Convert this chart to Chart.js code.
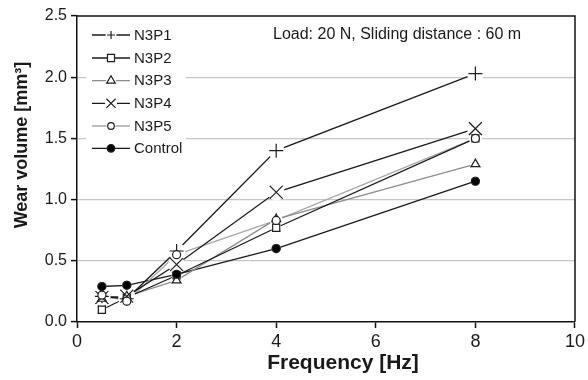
<!DOCTYPE html>
<html>
<head>
<meta charset="utf-8">
<script src="https://cdn.jsdelivr.net/npm/chart.js@4.4.1/dist/chart.umd.min.js"></script>
<style>
  html, body { margin: 0; padding: 0; background: #fff; }
  #wrap { width: 588px; height: 380px; position: relative; }
</style>
</head>
<body>
<div id="wrap"><canvas id="c" width="588" height="380"></canvas></div>
<script>
// ---- data ----
const frequency = [0.5, 1, 2, 4, 8];
const seriesNames = ['N3P1', 'N3P2', 'N3P3', 'N3P4', 'N3P5', 'Control'];
const n3p1 = [0.21, 0.19, 0.58, 1.40, 2.03];
const n3p2 = [0.10, 0.20, 0.38, 0.77, 1.50];
const n3p3 = [0.19, 0.21, 0.34, 0.84, 1.29];
const n3p4 = [0.20, 0.21, 0.47, 1.06, 1.58];
const n3p5 = [0.22, 0.17, 0.55, 0.83, 1.50];
const control = [0.29, 0.30, 0.39, 0.60, 1.15];
const xTickValues = [0, 2, 4, 6, 8, 10];
const yTickValues = [0.0, 0.5, 1.0, 1.5, 2.0, 2.5];
const xTitle = 'Frequency [Hz]';
const yTitle = 'Wear volume [mm\u00B3]';
const noteText = 'Load: 20 N, Sliding distance : 60 m';

const FONT = '"Liberation Sans", Arial, Helvetica, sans-serif';
const values = [n3p1, n3p2, n3p3, n3p4, n3p5, control];
const styles = [
  { line: '#1a1a1a', point: 'cross',    r: 7,   lr: 4,   bg: '#fff', halo: 8.5, lhalo: 5.5 },
  { line: '#1a1a1a', point: 'rect',     r: 5,   lr: 5,   bg: '#fff', halo: 5,   lhalo: 4 },
  { line: '#8c8c8c', point: 'triangle', r: 5,   lr: 5,   bg: '#fff', halo: 5.5, lhalo: 5 },
  { line: '#1a1a1a', point: 'crossRot', r: 9,   lr: 6.5, bg: '#fff', halo: 8.5, lhalo: 6 },
  { line: '#a8a8a8', point: 'circle',   r: 4,   lr: 3.3, bg: '#fff', halo: 6.5, lhalo: 4.5 },
  { line: '#1a1a1a', point: 'circle',   r: 4,   lr: 3.8, bg: '#000', halo: 4.5, lhalo: 3.8 }
];

const datasets = seriesNames.map((name, i) => ({
  label: name,
  data: frequency.map((f, j) => ({ x: f, y: values[i][j] })),
  borderColor: styles[i].line,
  borderWidth: 1.3,
  pointStyle: styles[i].point,
  pointRadius: styles[i].r,
  pointHoverRadius: styles[i].r,
  pointBorderColor: '#1e1e1e',
  pointBackgroundColor: styles[i].bg,
  pointBorderWidth: 1.2,
  halo: styles[i].halo,
  showLine: true,
  tension: 0,
  fill: false
}));

// white halos around markers (breaks lines & gridlines), then redraw markers
const haloPlugin = {
  id: 'halo',
  afterDatasetsDraw(chart) {
    const ctx = chart.ctx, a = chart.chartArea;
    ctx.save();
    ctx.beginPath();
    ctx.rect(a.left + 1, a.top + 1, a.right - a.left - 2, a.bottom - a.top - 2);
    ctx.clip();
    ctx.fillStyle = '#fff';
    chart.data.datasets.forEach((ds, i) => {
      chart.getDatasetMeta(i).data.forEach(pt => {
        ctx.beginPath();
        ctx.arc(pt.x, pt.y, ds.halo, 0, Math.PI * 2);
        ctx.fill();
      });
    });
    chart.data.datasets.forEach((ds, i) => {
      chart.getDatasetMeta(i).data.forEach(pt => pt.draw(ctx, a));
    });
    ctx.restore();
  }
};

// frame (top/right), legend, note, axis titles
const decorPlugin = {
  id: 'decor',
  beforeDatasetsDraw(chart) {
    const ctx = chart.ctx, a = chart.chartArea;
    ctx.save();
    ctx.strokeStyle = '#111';
    ctx.lineWidth = 1.5;
    ctx.beginPath();
    ctx.moveTo(a.left, a.top);
    ctx.lineTo(a.right, a.top);
    ctx.lineTo(a.right, a.bottom);
    ctx.stroke();
    ctx.restore();
  },
  afterDraw(chart) {
    const ctx = chart.ctx;
    ctx.save();
    // legend
    ctx.fillStyle = '#fff';
    ctx.fillRect(86, 22, 100, 138);
    const rowY = [35, 58, 80.7, 103.3, 126, 148.3];
    chart.data.datasets.forEach((ds, i) => {
      const y = rowY[i];
      const st = styles[i];
      ctx.strokeStyle = ds.borderColor;
      ctx.lineWidth = 1.3;
      ctx.beginPath();
      ctx.moveTo(92, y); ctx.lineTo(130, y);
      ctx.stroke();
      ctx.fillStyle = '#fff';
      ctx.beginPath();
      ctx.arc(111, y, st.lhalo, 0, Math.PI * 2);
      ctx.fill();
      ctx.strokeStyle = ds.pointBorderColor;
      ctx.fillStyle = ds.pointBackgroundColor;
      ctx.lineWidth = ds.pointBorderWidth;
      Chart.helpers.drawPoint(ctx, {
        pointStyle: ds.pointStyle, radius: st.lr, rotation: 0, borderWidth: ds.pointBorderWidth
      }, 111, y);
      ctx.fillStyle = '#1a1a1a';
      ctx.font = '15px ' + FONT;
      ctx.textAlign = 'left';
      ctx.textBaseline = 'middle';
      ctx.fillText(ds.label, 134, y + 0.5);
    });
    // note
    ctx.fillStyle = '#1a1a1a';
    ctx.font = '16px ' + FONT;
    ctx.textAlign = 'left';
    ctx.textBaseline = 'middle';
    ctx.fillText(noteText, 273, 35);
    // x title
    ctx.font = 'bold 21px ' + FONT;
    ctx.textAlign = 'center';
    ctx.textBaseline = 'alphabetic';
    ctx.fillText(xTitle, 343, 369);
    // y title
    ctx.translate(22, 145);
    ctx.rotate(-Math.PI / 2);
    ctx.font = 'bold 18px ' + FONT;
    ctx.textAlign = 'center';
    ctx.textBaseline = 'middle';
    ctx.fillText(yTitle, 0, 0);
    ctx.restore();
  }
};

new Chart(document.getElementById('c'), {
  type: 'scatter',
  data: { datasets },
  plugins: [haloPlugin, decorPlugin],
  options: {
    responsive: false,
    animation: false,
    devicePixelRatio: 1,
    layout: { padding: { top: 16, right: 11, left: 0, bottom: 0 } },
    plugins: { legend: { display: false }, tooltip: { enabled: false } },
    scales: {
      x: {
        type: 'linear', min: 0, max: 10,
        afterBuildTicks(s) { s.ticks = xTickValues.map(v => ({ value: v })); },
        afterFit(s) { s.height = 58; },
        ticks: { color: '#1a1a1a', font: { size: 18, family: FONT }, padding: 3, maxRotation: 0,
                 callback: v => String(v) },
        grid: { drawOnChartArea: false, drawTicks: true, tickLength: 6, tickColor: '#111', tickWidth: 1.5 },
        border: { color: '#111', width: 1.5 }
      },
      y: {
        type: 'linear', min: 0, max: 2.5,
        afterBuildTicks(s) { s.ticks = yTickValues.map(v => ({ value: v })); },
        afterFit(s) { s.width = 77; },
        ticks: { color: '#1a1a1a', font: { size: 16, family: FONT }, padding: 4,
                 callback: v => Number(v).toFixed(1) },
        grid: {
          drawTicks: true, tickLength: 6, tickColor: '#111', tickWidth: 1.5,
          color: c => (c.tick && (c.tick.value === 0 || c.tick.value === 2.5)) ? 'rgba(0,0,0,0)' : '#c6c6c6',
          lineWidth: 1.2
        },
        border: { color: '#111', width: 1.5 }
      }
    }
  }
});
</script>
</body>
</html>
